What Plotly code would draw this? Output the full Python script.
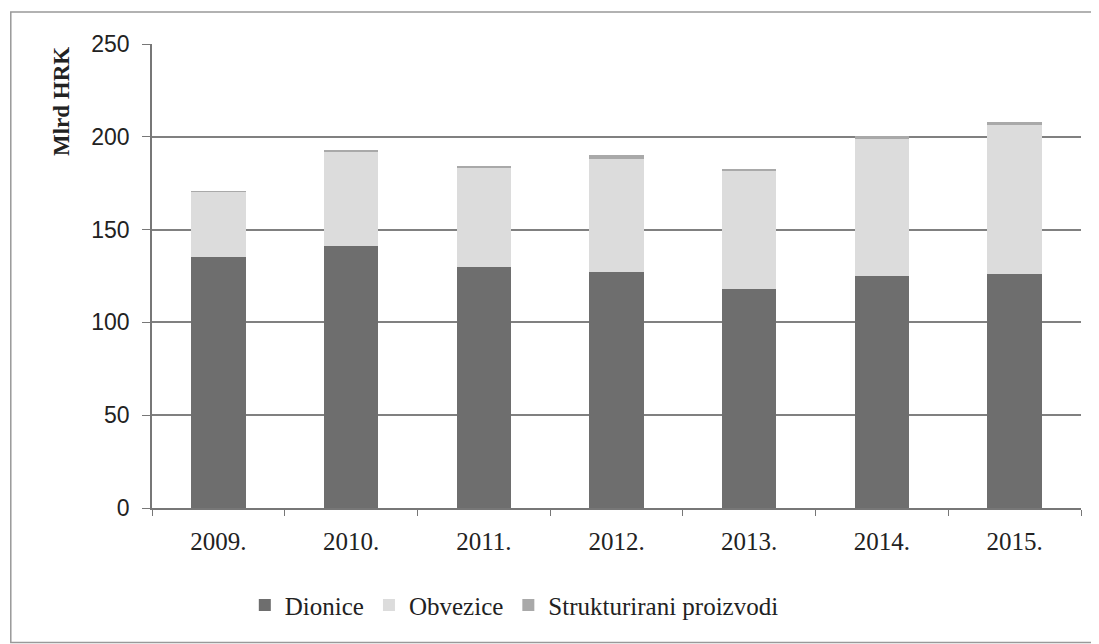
import plotly.graph_objects as go

years = ["2009.", "2010.", "2011.", "2012.", "2013.", "2014.", "2015."]
dionice = [135, 141, 130, 127, 118, 125, 126]
obvezice = [35.5, 51, 53.5, 61, 64, 74, 80.5]
strukturirani = [0.3, 0.5, 0.5, 2, 0.5, 1.5, 1.5]

colors = {"Dionice": "#6e6e6e", "Obvezice": "#dcdcdc", "Strukturirani proizvodi": "#a9a9a9"}

fig = go.Figure()
for name, vals in [("Dionice", dionice), ("Obvezice", obvezice), ("Strukturirani proizvodi", strukturirani)]:
    fig.add_trace(go.Bar(x=years, y=vals, name=name, marker=dict(color=colors[name], line=dict(width=0))))

fig.update_layout(
    barmode="stack",
    bargap=0.59,
    width=1099, height=644,
    margin=dict(l=144, r=26, t=36, b=144, autoexpand=False),
    paper_bgcolor="white", plot_bgcolor="white",
    showlegend=True,
    legend=dict(orientation="h", x=0.39, xanchor="center", y=-0.16, yanchor="top",
                font=dict(family="Liberation Serif", size=25, color="#222"),
                itemwidth=30, tracegroupgap=0, traceorder="normal"),
    xaxis=dict(automargin=False, showline=True, linecolor="#777", linewidth=1.5, ticks="outside",
               tickson="boundaries", ticklen=6, tickcolor="#777", ticklabelstandoff=10,
               tickfont=dict(family="Liberation Serif", size=25, color="#222")),
    yaxis=dict(automargin=False, range=[0, 250], dtick=50, showgrid=True, gridcolor="#808080", gridwidth=1.5,
               showline=True, linecolor="#777", linewidth=1.5, ticks="outside", ticklen=8, tickcolor="#777",
               zeroline=False, ticklabelstandoff=8,
               tickfont=dict(family="Liberation Sans", size=23, color="#222")),
)
fig.add_annotation(text="<b>Mlrd HRK</b>", xref="paper", yref="paper", x=-0.098, y=0.877,
                   xanchor="center", yanchor="middle", textangle=-90, showarrow=False,
                   font=dict(family="Liberation Serif", size=23, color="#222"))
fig.add_shape(type="rect", xref="paper", yref="paper", x0=-0.152, x1=1.018, y0=-0.29, y1=1.069,
              line=dict(color="#999", width=1.5), layer="below")

fig.write_html("out.html")
